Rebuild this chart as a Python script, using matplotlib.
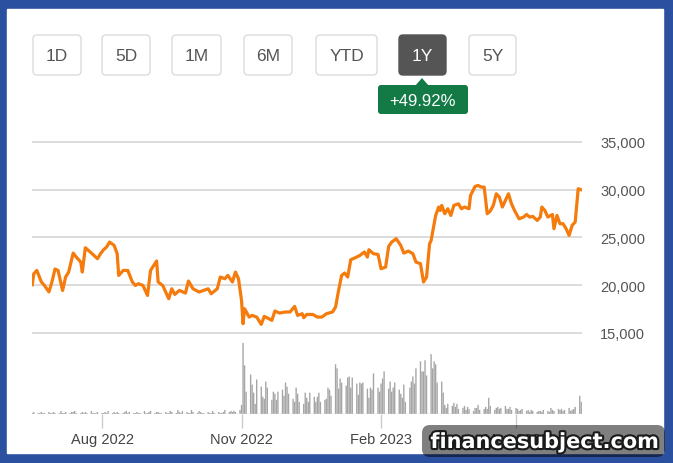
import numpy as np
import pandas as pd
import matplotlib
matplotlib.use("Agg")
import matplotlib.pyplot as plt
import matplotlib.dates as mdates
import matplotlib.patheffects as pe
from matplotlib.patches import FancyBboxPatch, Rectangle, Polygon

plt.rcParams['font.family'] = ['Liberation Sans', 'DejaVu Sans']

# ---- data ----
start = pd.Timestamp('2022-06-15')

# calendar days after start, and closing price on that day
price_days = [1, 2, 4, 7, 9, 12, 14, 16, 18, 21,
              23, 25, 28, 30, 33, 34, 36, 40, 44, 46,
              48, 50, 52, 55, 57, 58, 61, 64, 67, 69,
              71, 74, 77, 79, 83, 84, 87, 91, 93, 95,
              98, 102, 104, 107, 111, 114, 117, 119, 123, 125,
              128, 130, 133, 135, 137, 139, 140, 141, 144, 146,
              149, 152, 154, 157, 159, 161, 164, 168, 171, 174,
              176, 179, 180, 182, 186, 189, 192, 195, 199, 201,
              203, 205, 207, 209, 211, 214, 217, 220, 222, 223,
              226, 229, 231, 234, 236, 238, 241, 244, 246, 249,
              252, 254, 257, 259, 261, 263, 264, 267, 269, 270,
              271, 273, 275, 277, 279, 282, 284, 286, 289, 290,
              293, 295, 297, 299, 301, 303, 305, 307, 309, 311,
              313, 315, 317, 319, 322, 325, 327, 329, 331, 334,
              336, 337, 339, 341, 344, 345, 347, 349, 351, 353,
              355, 357, 359, 361, 363]
price = [20050, 21200, 21550, 20350, 19980, 19300, 20350, 21700, 21550, 19450,
         20860, 21380, 23370, 22950, 22430, 21380, 23930, 23370, 22780, 23300,
         23720, 24000, 24520, 24170, 23300, 21030, 21550, 21550, 20340, 19980,
         20160, 19980, 18930, 21550, 22540, 20340, 19980, 18590, 19630, 19040,
         19460, 19180, 20440, 19630, 19290, 19460, 19630, 19110, 19630, 20860,
         20680, 21030, 20340, 21380, 20680, 18410, 15970, 17540, 16670, 16840,
         16670, 15900, 16740, 16500, 16320, 17300, 17090, 17200, 17200, 17780,
         16840, 17020, 16600, 16940, 16940, 16670, 16670, 17020, 17200, 17720,
         19460, 21030, 21280, 20860, 22670, 22880, 23120, 23480, 22950, 23720,
         23300, 23230, 21730, 21900, 24060, 24520, 24870, 24170, 23370, 23580,
         23300, 22430, 22250, 20340, 20860, 24350, 24690, 27300, 28190, 27830,
         28360, 27490, 28010, 27310, 28360, 28530, 28010, 28190, 28010, 29400,
         30350, 30450, 30280, 30280, 27490, 27770, 28360, 29580, 29240, 28190,
         28880, 29580, 28530, 27830, 26960, 27140, 27410, 27140, 27210, 26790,
         27140, 28190, 27830, 27140, 27410, 25920, 27310, 26440, 26440, 25920,
         25220, 26270, 26620, 30100, 30000]

# daily volume (relative units), one week per group, business days from start
volume = [1, 1, 2, 1, 1,   2, 1, 1, 2, 1,   1, 2, 1, 1, 3,   1, 1, 2, 1, 2,
          2, 3, 1, 1, 2,   1, 2, 1, 3, 1,   1, 1, 2, 1, 1,   2, 1, 3, 1, 2,
          1, 2, 1, 1, 2,   3, 1, 2, 1, 1,   2, 1, 1, 3, 1,   1, 2, 3, 1, 2,
          2, 1, 1, 2, 1,   1, 3, 2, 1, 4,   2, 1, 3, 2, 1,   1, 4, 2, 1, 3,
          2, 1, 1, 2, 1,   1, 3, 1, 2, 1,   1, 2, 4, 2, 3,   2, 3, 2, 4, 9,
          70, 48, 22, 39, 29,  21, 10, 34, 27, 17,  15, 32, 26, 14, 22,
          20, 14, 22, 24, 18,  31, 27, 20, 15, 12,  26, 20, 12, 10, 21,
          16, 12, 21, 17, 12,  17, 21, 12, 14, 15,  26, 24, 18, 49, 45,
          25, 35, 31, 28, 36,  37, 26, 36, 30, 19,  31, 30, 31, 25, 16,
          26, 24, 40, 26, 22,  30, 35, 42, 25, 32,  22, 26, 31, 24, 20,
          16, 29, 12, 26, 32,  37, 30, 45, 52, 42,  42, 53, 38, 59, 45,
          52, 49, 31, 32, 21,  9, 6, 10, 8, 11,   7, 10, 5, 6, 8,
          4, 7, 5, 3, 6,   6, 9, 4, 5, 7,   5, 16, 8, 4, 6,
          7, 5, 6, 8, 5,   5, 7, 4, 6, 5,   3, 4, 5, 3, 4,
          2, 4, 3, 2, 3,   3, 2, 4, 3, 2,   6, 4, 3, 5, 4,
          5, 3, 4, 6, 3,   4, 5, 7, 18, 12]

ranges = ['1D', '5D', '1M', '6M', 'YTD', '1Y', '5Y']
active_range = '1Y'
change_text = '+49.92%'
price_ticks = [15000, 20000, 25000, 30000, 35000]
month_ticks = ['2022-08-01', '2022-11-01', '2023-02-01', '2023-05-01']

price_dates = start + pd.to_timedelta(price_days, unit='D')
vol_dates = pd.bdate_range(start, periods=len(volume))

# ---- figure ----
W, H = 673, 464
fig = plt.figure(figsize=(W / 100, H / 100), dpi=100, facecolor='#2c50a0')

# background layer in pixel coordinates
bg = fig.add_axes([0, 0, 1, 1], zorder=0)
bg.set_xlim(0, W)
bg.set_ylim(H, 0)
bg.axis('off')
bg.add_patch(Rectangle((7, 10), 656, 444, color='white'))

btn_x = [33, 102, 172, 244, 316, 399, 469]
btn_w = [48, 48, 49, 48, 61, 47, 47]
for lab, x0, w in zip(ranges, btn_x, btn_w):
    on = lab == active_range
    bg.add_patch(FancyBboxPatch((x0, 36), w, 40,
                                boxstyle='round,pad=0,rounding_size=4',
                                fc='#555555' if on else 'white',
                                ec='#555555' if on else '#dcdcdc', lw=1))
    bg.text(x0 + w / 2, 56.5, lab, ha='center', va='center', fontsize=12.5,
            color='white' if on else '#555555')

# green change badge under the active button
bg.add_patch(FancyBboxPatch((378, 86), 90, 29,
                            boxstyle='round,pad=0,rounding_size=3',
                            fc='#137a46', ec='none'))
bg.add_patch(Polygon([(415, 87), (429, 87), (422, 79)], closed=True,
                     fc='#137a46', ec='none'))
bg.text(423, 101, change_text, ha='center', va='center', fontsize=12,
        color='white')

# chart area
left, right, top, bottom = 32, 582, 130, 415
rect = [left / W, 1 - bottom / H, (right - left) / W, (bottom - top) / H]
axv = fig.add_axes(rect, zorder=1)
ax = fig.add_axes(rect, zorder=2)
for a in (ax, axv):
    a.patch.set_alpha(0)
    for s in a.spines.values():
        s.set_visible(False)

xmin = start + pd.Timedelta(hours=20)
xmax = start + pd.Timedelta(days=363, hours=12)

axv.bar(vol_dates, volume, width=0.9, color='#a5a5a5', linewidth=0,
        snap=False)
axv.axhline(0, color='#dddddd', lw=1)
axv.set_ylim(0, 281)
axv.set_xlim(xmin, xmax)
axv.set_xticks([])
axv.set_yticks([])

ax.plot(price_dates, price, color='#f47b0c', lw=2.3, solid_joinstyle='round')
ax.set_xlim(xmin, xmax)
ax.set_ylim(6518, 36361)
ax.set_yticks(price_ticks)
ax.set_yticklabels([f'{v:,}' for v in price_ticks])
ax.yaxis.tick_right()
ax.tick_params(axis='y', length=0, pad=13, labelsize=10.5, labelcolor='#555555')
ax.grid(axis='y', color='#d6d6d6', lw=1.2)
ax.set_axisbelow(True)
ax.set_xticks(pd.to_datetime(month_ticks))
ax.xaxis.set_major_formatter(mdates.DateFormatter('%b %Y'))
ax.tick_params(axis='x', length=10, width=1, color='#cccccc', labelsize=10.5,
               labelcolor='#444444', pad=3)

# watermark (covers part of the last month label, as in the source)
wm = fig.add_axes([0, 0, 1, 1], zorder=10)
wm.set_xlim(0, W)
wm.set_ylim(H, 0)
wm.axis('off')
wm.patch.set_alpha(0)
wm.add_patch(FancyBboxPatch((422, 426), 243, 32,
                            boxstyle='round,pad=0,rounding_size=8',
                            fc='black', alpha=0.5, ec='none'))
wm.text(545, 443, 'financesubject.com', ha='center', va='center',
        fontsize=15, fontweight='bold', family='DejaVu Sans', color='white',
        path_effects=[pe.withStroke(linewidth=3, foreground='#1a1a1a')])

fig.savefig('out.png', dpi=100, facecolor=fig.get_facecolor())
